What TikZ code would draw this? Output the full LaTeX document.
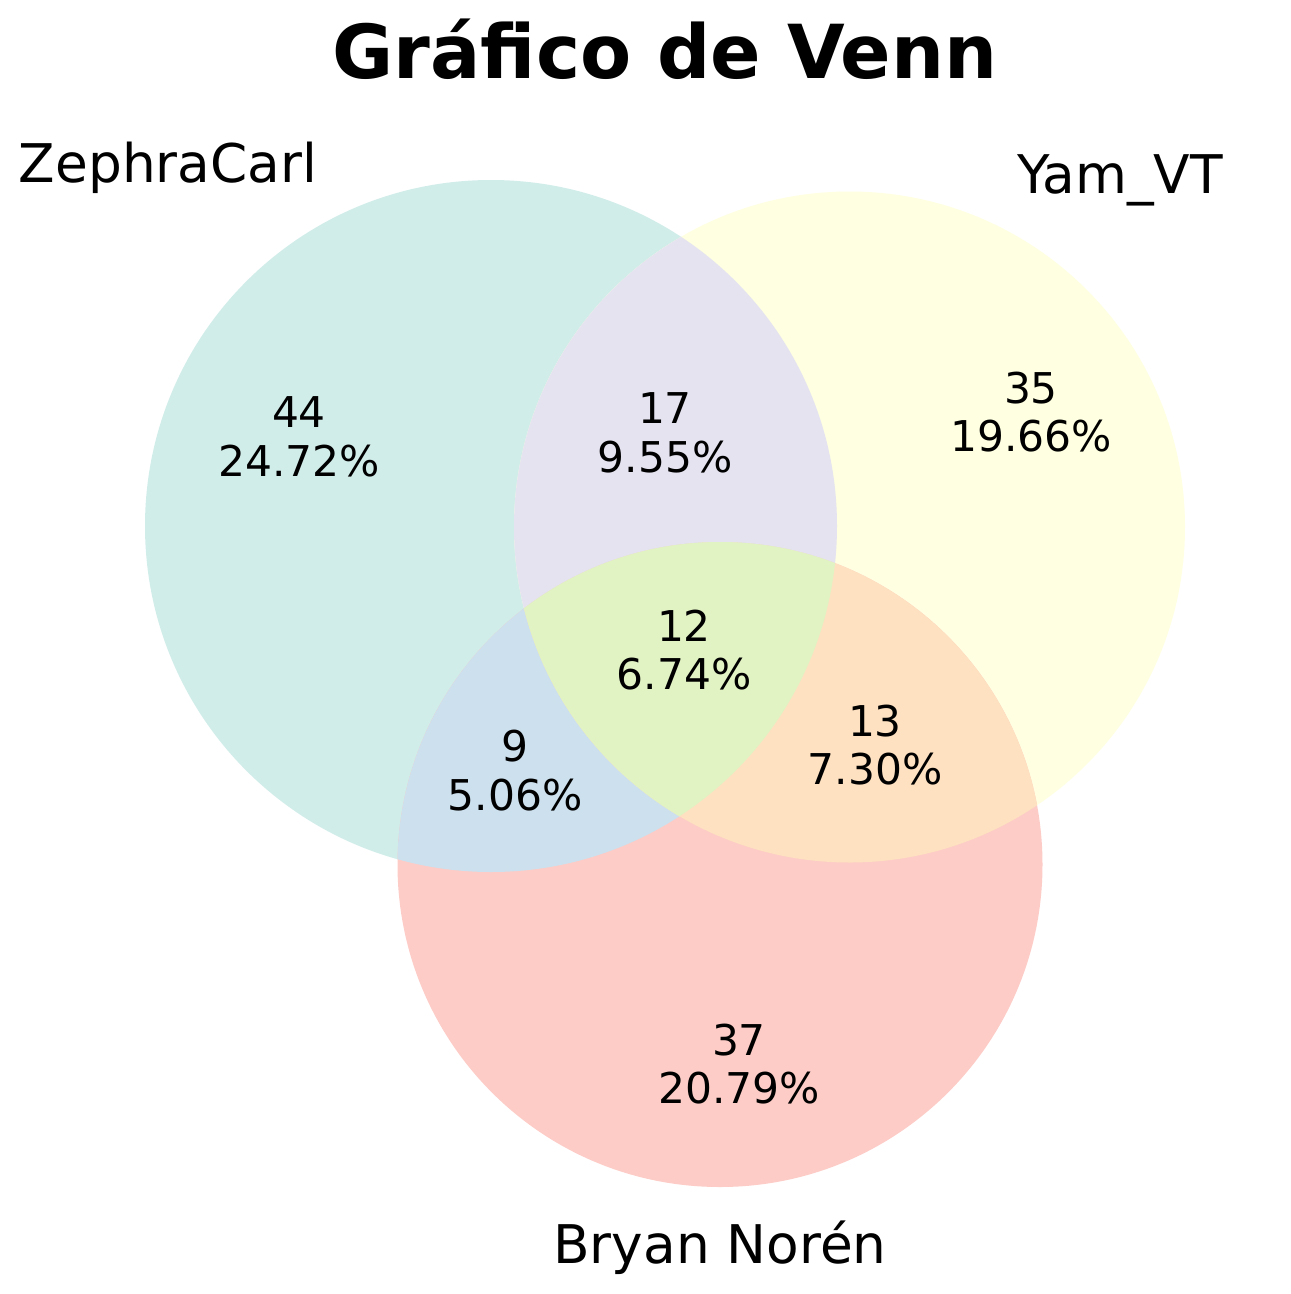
\documentclass[tikz,border=0pt]{standalone}
\usepackage{fontspec}
\setmainfont{DejaVu Sans}
\definecolor{cZ}{HTML}{8DD3C7}
\definecolor{cY}{HTML}{FFFFB3}
\definecolor{cB}{HTML}{FB8072}
\definecolor{cZY}{HTML}{BEBADA}
\definecolor{cZB}{HTML}{80B1D3}
\definecolor{cYB}{HTML}{FDB462}
\definecolor{cZYB}{HTML}{B3DE69}
\tikzset{
  numlabel/.style={inner sep=0pt, align=center, font=\fontsize{42.4}{48.5}\selectfont},
  setlabel/.style={inner sep=0pt, anchor=base, font=\fontsize{53.3}{60}\selectfont},
  titlelabel/.style={inner sep=0pt, anchor=base, font=\fontsize{74.5}{80}\selectfont\bfseries}
}
\def\circZ{(491,526) circle[radius=346]}
\def\circY{(849.5,527) circle[radius=335.5]}
\def\circB{(720,864.5) circle[radius=322.5]}
\begin{document}
\begin{tikzpicture}[x=1pt,y=-1pt]
\useasboundingbox (0,0) rectangle (1291,1294);
\fill[white] (0,0) rectangle (1291,1294);
% base circles
\fill[cZ!40] \circZ;
\fill[cY!40] \circY;
\fill[cB!40] \circB;
% pairwise overlaps
\begin{scope}
  \clip \circZ;
  \fill[cZY!40] \circY;
\end{scope}
\begin{scope}
  \clip \circZ;
  \fill[cZB!40] \circB;
\end{scope}
\begin{scope}
  \clip \circY;
  \fill[cYB!40] \circB;
\end{scope}
\begin{scope}
  \clip \circZ;
  \clip \circY;
  \fill[cZYB!40] \circB;
\end{scope}
% title and set labels
\node[titlelabel] (title) at (665,78) {Gráfico de Venn};
\node[setlabel] (labZ) at (168,182) {ZephraCarl};
\node[setlabel] (labY) at (1120,193) {Yam\_VT};
\node[setlabel] (labB) at (720,1263) {Bryan Norén};
% region labels
\node[numlabel] (rZ) at (299,437) {44\\24.72\%};
\node[numlabel] (rZY) at (665,433) {17\\9.55\%};
\node[numlabel] (rY) at (1031,412) {35\\19.66\%};
\node[numlabel] (rZYB) at (684,650) {12\\6.74\%};
\node[numlabel] (rZB) at (515,770.5) {9\\5.06\%};
\node[numlabel] (rYB) at (875,745) {13\\7.30\%};
\node[numlabel] (rB) at (739,1064) {37\\20.79\%};
\end{tikzpicture}
\end{document}
